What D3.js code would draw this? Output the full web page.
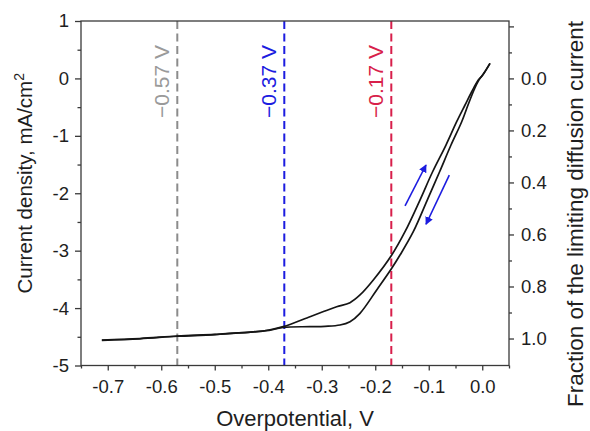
<!DOCTYPE html>
<html>
<head>
<meta charset="utf-8">
<script src="https://cdn.jsdelivr.net/npm/d3@7"></script>
<style>
  body { margin: 0; background: #fff; }
  svg { display: block; }
  text { font-family: "Liberation Sans", Arial, Helvetica, sans-serif; }
</style>
</head>
<body>
<svg id="chart" width="590" height="431"></svg>
<script>
// Forward scan (toward positive overpotential), V and mA/cm2
const forwardV = [-0.711, -0.640, -0.570, -0.4995, -0.434, -0.3986, -0.3719, -0.322, -0.2939, -0.2721,
                  -0.2472, -0.2285, -0.2036, -0.1692, -0.1444, -0.1164, -0.093, -0.0678, -0.0478, -0.0322,
                  -0.0197, -0.0074, -0.0005, 0.0145];
const forwardJ = [-4.556, -4.530, -4.486, -4.457, -4.420, -4.382, -4.324, -4.150, -4.051, -3.976,
                  -3.906, -3.772, -3.511, -3.076, -2.670, -2.118, -1.630, -1.160, -0.754, -0.463,
                  -0.232, -0.028, 0.042, 0.263];
// Reverse scan (back toward negative overpotential)
const reverseV = [0.0145, 0.0033, -0.0074, -0.0154, -0.0266, -0.0384, -0.0584, -0.0799, -0.1014, -0.1289,
                  -0.1537, -0.1692, -0.1973, -0.2285, -0.2472, -0.2659, -0.2939, -0.322, -0.3719, -0.3986,
                  -0.4995, -0.570, -0.640, -0.711];
const reverseJ = [0.263, 0.094, -0.045, -0.202, -0.463, -0.754, -1.160, -1.630, -2.088, -2.670,
                  -3.076, -3.307, -3.685, -4.091, -4.237, -4.295, -4.317, -4.324, -4.335, -4.387,
                  -4.462, -4.491, -4.535, -4.561];

// Reference potentials marked with dashed lines
const markerV = [-0.57, -0.37, -0.17];
const markerLabels = ["\u22120.57 V", "\u22120.37 V", "\u22120.17 V"];
const markerColors = ["#8c8c8c", "#1c1ce0", "#d81f4b"];
const markerTextColors = ["#9a9a9a", "#1c1ce0", "#d81f4b"];

// Scan-direction arrows (from V, from j, to V, to j)
const arrowFromV = [-0.1443, -0.0616];
const arrowFromJ = [-2.218, -1.684];
const arrowToV = [-0.1051, -0.1051];
const arrowToJ = [-1.508, -2.540];

// Limiting diffusion current density, mA/cm2
const limitingJ = -4.53;

// Axis ticks and labels
const xTicks = [-0.7, -0.6, -0.5, -0.4, -0.3, -0.2, -0.1, 0.0];
const xTickLabels = ["-0.7", "-0.6", "-0.5", "-0.4", "-0.3", "-0.2", "-0.1", "0.0"];
const xMinorTicks = [-0.75, -0.65, -0.55, -0.45, -0.35, -0.25, -0.15, -0.05, 0.05];
const yTicks = [1, 0, -1, -2, -3, -4, -5];
const yTickLabels = ["1", "0", "-1", "-2", "-3", "-4", "-5"];
const yMinorTicks = [0.5, -0.5, -1.5, -2.5, -3.5, -4.5];
const fracTicks = [-0.2, 0.0, 0.2, 0.4, 0.6, 0.8, 1.0];
const fracTickLabels = ["", "0.0", "0.2", "0.4", "0.6", "0.8", "1.0"];
const fracMinorTicks = [-0.1, 0.1, 0.3, 0.5, 0.7, 0.9];

const svg = d3.select("#chart");
const plotLeft = 81, plotRight = 509, plotTop = 21, plotBottom = 365.5;
const axisColor = "#3a3a3a";
const textColor = "#1e1e1e";

const x = d3.scaleLinear().domain([-0.75, 0.05]).range([plotLeft, plotRight]);
const y = d3.scaleLinear().domain([-5, 1]).range([plotBottom, plotTop]);
const yFrac = d3.scaleLinear().domain(y.domain().map(j => j / limitingJ)).range([plotBottom, plotTop]);

// Dashed reference lines
markerV.forEach((v, i) => {
  svg.append("line")
    .attr("x1", x(v)).attr("x2", x(v))
    .attr("y1", y(1)).attr("y2", y(-5))
    .attr("stroke", markerColors[i])
    .attr("stroke-width", 2)
    .attr("stroke-dasharray", "8,4.5");
  svg.append("text")
    .attr("transform", `translate(${x(v) - 8},${y(-0.69)}) rotate(-90)`)
    .attr("text-anchor", "start")
    .attr("fill", markerTextColors[i])
    .attr("font-size", 21)
    .text(markerLabels[i]);
});

// Voltammogram branches
const scanLine = d3.line().x(d => x(d[0])).y(d => y(d[1])).curve(d3.curveCatmullRom.alpha(0.5));
svg.append("path")
  .attr("d", scanLine(forwardV.map((v, i) => [v, forwardJ[i]])))
  .attr("fill", "none").attr("stroke", "#151515").attr("stroke-width", 1.7);
svg.append("path")
  .attr("d", scanLine(reverseV.map((v, i) => [v, reverseJ[i]])))
  .attr("fill", "none").attr("stroke", "#151515").attr("stroke-width", 1.7);

// Arrows showing scan direction
const defs = svg.append("defs");
defs.append("marker")
  .attr("id", "arrowhead")
  .attr("viewBox", "0 0 10 10")
  .attr("refX", 9).attr("refY", 5)
  .attr("markerWidth", 5).attr("markerHeight", 5)
  .attr("markerUnits", "strokeWidth")
  .attr("orient", "auto")
  .append("path").attr("d", "M0,0 L10,5 L0,10 Z").attr("fill", "#1c1ce0");
arrowFromV.forEach((v, i) => {
  svg.append("line")
    .attr("x1", x(v)).attr("y1", y(arrowFromJ[i]))
    .attr("x2", x(arrowToV[i])).attr("y2", y(arrowToJ[i]))
    .attr("stroke", "#1c1ce0").attr("stroke-width", 1.6)
    .attr("marker-end", "url(#arrowhead)");
});

// Frame
svg.append("rect")
  .attr("x", plotLeft).attr("y", plotTop)
  .attr("width", plotRight - plotLeft).attr("height", plotBottom - plotTop)
  .attr("fill", "none").attr("stroke", axisColor).attr("stroke-width", 1.3);

function styleAxis(g) {
  g.select(".domain").remove();
  g.selectAll("line").attr("stroke", axisColor).attr("stroke-width", 1.3);
  g.selectAll("text").attr("fill", textColor).attr("font-size", 18.5)
    .attr("font-family", "'Liberation Sans', Arial, sans-serif");
}

// Bottom axis
svg.append("g").attr("transform", `translate(0,${plotBottom})`)
  .call(d3.axisBottom(x).tickValues(xMinorTicks).tickSize(3).tickFormat(""))
  .call(styleAxis);
svg.append("g").attr("transform", `translate(0,${plotBottom})`)
  .call(d3.axisBottom(x).tickValues(xTicks).tickSize(5).tickPadding(9)
    .tickFormat((d, i) => xTickLabels[i]))
  .call(styleAxis);

// Left axis
svg.append("g").attr("transform", `translate(${plotLeft},0)`)
  .call(d3.axisLeft(y).tickValues(yMinorTicks).tickSize(3.5).tickFormat(""))
  .call(styleAxis);
svg.append("g").attr("transform", `translate(${plotLeft},0)`)
  .call(d3.axisLeft(y).tickValues(yTicks).tickSize(6).tickPadding(6)
    .tickFormat((d, i) => yTickLabels[i]))
  .call(styleAxis);

// Right axis: fraction of the limiting diffusion current
svg.append("g").attr("transform", `translate(${plotRight},0)`)
  .call(d3.axisRight(yFrac).tickValues(fracMinorTicks).tickSize(3).tickFormat(""))
  .call(styleAxis);
svg.append("g").attr("transform", `translate(${plotRight},0)`)
  .call(d3.axisRight(yFrac).tickValues(fracTicks).tickSize(5).tickPadding(7)
    .tickFormat((d, i) => fracTickLabels[i]))
  .call(styleAxis);

// Axis titles
svg.append("text")
  .attr("x", (plotLeft + plotRight) / 2).attr("y", 426)
  .attr("text-anchor", "middle").attr("fill", textColor).attr("font-size", 22)
  .text("Overpotential, V");

const yTitle = svg.append("text")
  .attr("transform", `translate(32,${(plotTop + plotBottom) / 2 - 10}) rotate(-90)`)
  .attr("text-anchor", "middle").attr("fill", textColor).attr("font-size", 20.5);
yTitle.append("tspan").text("Current density, mA/cm");
yTitle.append("tspan").attr("dy", -8).attr("font-size", 14).text("2");

svg.append("text")
  .attr("transform", `translate(583,214) rotate(-90)`)
  .attr("text-anchor", "middle").attr("fill", textColor).attr("font-size", 22.5)
  .text("Fraction of the limiting diffusion current");
</script>
</body>
</html>
